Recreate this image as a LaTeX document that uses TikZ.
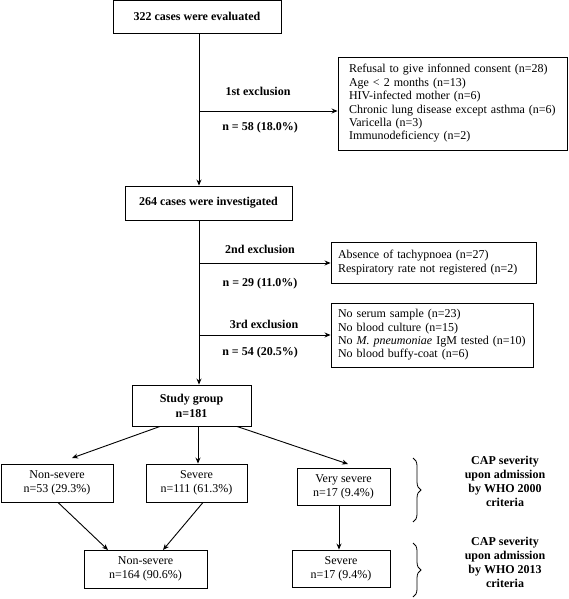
\documentclass[tikz,border=0pt]{standalone}
\usepackage{fontspec}
\setmainfont{Liberation Serif}
\usetikzlibrary{arrows.meta,decorations.pathreplacing}
\tikzset{
  box/.style={draw, line width=0.9pt, align=center, inner sep=0pt, font=\fontsize{12}{14}\selectfont},
  bbox/.style={box, font=\bfseries\fontsize{12}{15}\selectfont},
  lst/.style={draw, line width=0.9pt, align=left, inner ysep=0pt, font=\fontsize{12}{13.4}\selectfont},
  lbl/.style={font=\bfseries\fontsize{12}{14}\selectfont, inner sep=0pt, align=center},
  arr/.style={line width=0.9pt, -{Stealth[length=6pt,width=5pt]}},
  ln/.style={line width=0.9pt},
  brc/.style={line width=0.8pt, decorate, decoration={brace, amplitude=8pt}}
}
\begin{document}
\begin{tikzpicture}[x=1pt,y=-1pt]
\useasboundingbox (0,0) rectangle (568,599);
% main boxes
\node[bbox, minimum width=168pt, minimum height=33pt] (b1) at (197,16.5) {322 cases were evaluated};
\node[bbox, minimum width=167pt, minimum height=34pt] (b2) at (208.5,203) {264 cases were investigated};
\node[bbox, minimum width=119pt, minimum height=41pt] (sg) at (191.5,405.5) {Study group\\n=181};
% exclusion boxes
\node[lst, minimum width=229pt, minimum height=93pt, text width=207pt, inner xsep=11pt] (x1) at (452.5,103.5)
  {Refusal to give infonned consent (n=28)\\Age < 2 months (n=13)\\HIV-infected mother (n=6)\\Chronic lung disease except asthma (n=6)\\Varicella (n=3)\\Immunodeficiency (n=2)};
\node[lst, minimum width=205pt, minimum height=41pt, text width=191pt, inner xsep=7pt] (x2) at (433.5,262.5)
  {Absence of tachypnoea (n=27)\\Respiratory rate not registered (n=2)};
\node[lst, minimum width=202pt, minimum height=64pt, text width=188pt, inner xsep=7pt] (x3) at (432,335)
  {No serum sample (n=23)\\No blood culture (n=15)\\No \textit{M. pneumoniae} IgM tested (n=10)\\No blood buffy-coat (n=6)};
% severity boxes
\node[box, minimum width=112pt, minimum height=38pt] (ns1) at (57,483) {Non-severe\\n=53 (29.3\%)};
\node[box, minimum width=101pt, minimum height=38pt] (sv1) at (196.5,483) {Severe\\n=111 (61.3\%)};
\node[box, minimum width=93pt, minimum height=37pt] (vs) at (343.5,486.5) {Very severe\\n=17 (9.4\%)};
\node[box, minimum width=123pt, minimum height=38pt] (ns2) at (145.5,569) {Non-severe\\n=164 (90.6\%)};
\node[box, minimum width=98pt, minimum height=37pt] (sv2) at (341,568.5) {Severe\\n=17 (9.4\%)};
% spine
\coordinate (sp) at (199,0);
\draw[arr] (b1.south -| sp) -- (b2.north -| sp);
\draw[arr] (b2.south -| sp) -- (sg.north -| sp);
% exclusion arrows
\coordinate (e1) at (199,111);
\coordinate (e2) at (199,263);
\coordinate (e3) at (199,335);
\coordinate (e3a) at (225,335);
\coordinate (e3b) at (312,335);
\draw[arr] (e1) -- (e1 -| x1.west);
\draw[arr] (e2) -- (e2 -| x2.west);
\draw[ln] (e3) -- (e3a);
\draw[line width=0.4pt] (e3a) -- (e3b);
\draw[arr] (e3b) -- (e3 -| x3.west);
% labels
\node[lbl] (l1a) at (258,91) {1st exclusion};
\node[lbl] (l1b) at (260,128) {n = 58 (18.0\%)};
\node[lbl] (l2a) at (260,249) {2nd exclusion};
\node[lbl] (l2b) at (260,284) {n = 29 (11.0\%)};
\node[lbl] (l3a) at (264,324) {3rd exclusion};
\node[lbl] (l3b) at (260,353) {n = 54 (20.5\%)};
% study group arrows
\coordinate (t1) at (72,458);
\coordinate (t3) at (348,464);
\draw[arr] (sg.south -| 160,0) -- (t1);
\draw[arr] (sg.south -| 198,0) -- (sv1.north -| 198,0);
\draw[arr] (sg.south -| 237,0) -- (t3);
% lower arrows
\coordinate (t4) at (108,550);
\coordinate (t5) at (163,550);
\draw[arr] (ns1.south -| 58,0) -- (t4);
\draw[arr] (sv1.south -| 203,0) -- (t5);
\draw[arr] (vs.south -| 339,0) -- (sv2.north -| 339,0);
% braces
\coordinate (br1a) at (413,458);
\coordinate (br1b) at (413,522);
\coordinate (br2a) at (413,543);
\coordinate (br2b) at (413,597);
\draw[brc] (br1a) -- (br1b);
\draw[brc] (br2a) -- (br2b);
\node[lbl, font=\bfseries\fontsize{12}{14}\selectfont] (c1) at (505,481.5) {CAP severity\\upon admission\\by WHO 2000\\criteria};
\node[lbl, font=\bfseries\fontsize{12}{14}\selectfont] (c2) at (505,562.5) {CAP severity\\upon admission\\by WHO 2013\\criteria};
\end{tikzpicture}
\end{document}
